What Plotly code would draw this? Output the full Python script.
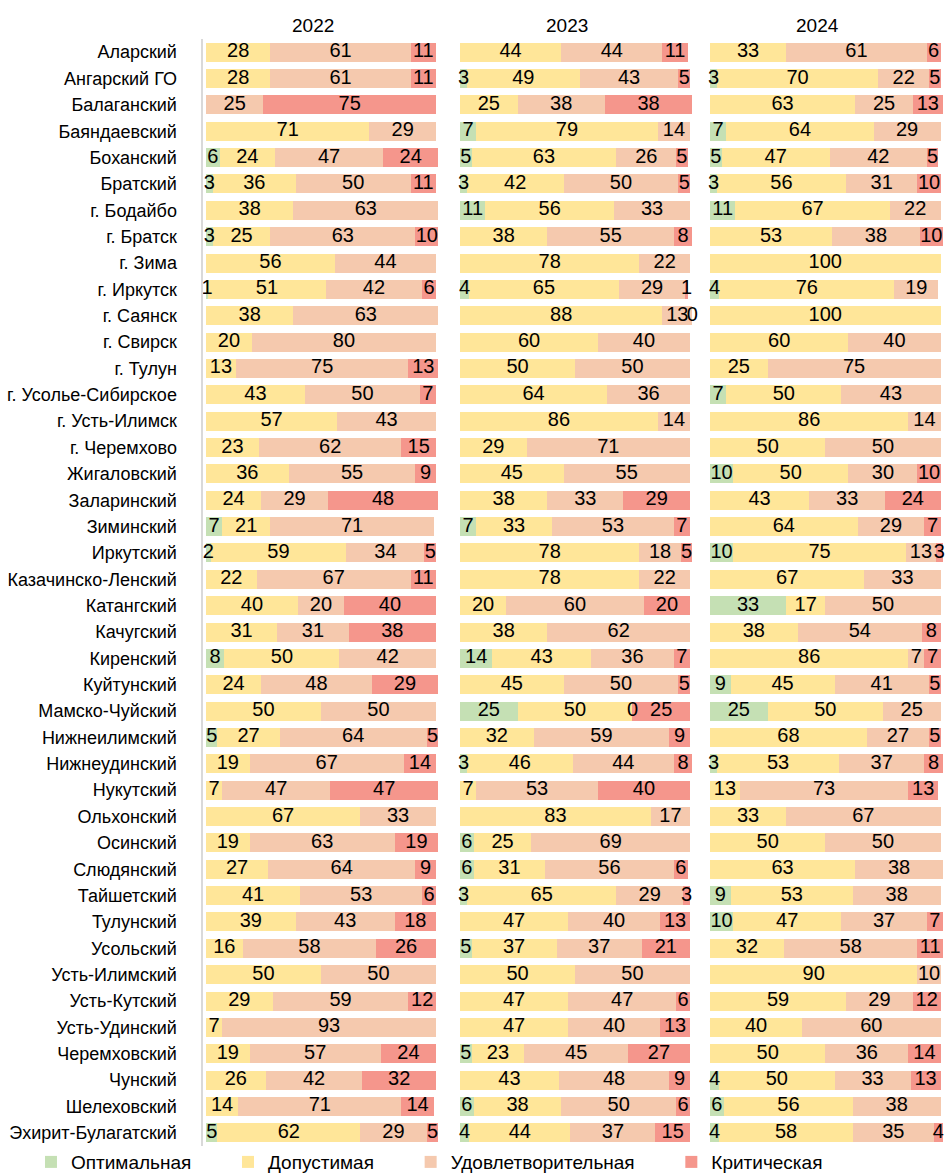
import plotly.graph_objects as go
from plotly.subplots import make_subplots

N = None

regions = ["Аларский", "Ангарский ГО", "Балаганский", "Баяндаевский", "Боханский", "Братский",
           "г. Бодайбо", "г. Братск", "г. Зима", "г. Иркутск", "г. Саянск", "г. Свирск", "г. Тулун",
           "г. Усолье-Сибирское", "г. Усть-Илимск", "г. Черемхово", "Жигаловский", "Заларинский",
           "Зиминский", "Иркутский", "Казачинско-Ленский", "Катангский", "Качугский", "Киренский",
           "Куйтунский", "Мамско-Чуйский", "Нижнеилимский", "Нижнеудинский", "Нукутский",
           "Ольхонский", "Осинский", "Слюдянский", "Тайшетский", "Тулунский", "Усольский",
           "Усть-Илимский", "Усть-Кутский", "Усть-Удинский", "Черемховский", "Чунский",
           "Шелеховский", "Эхирит-Булагатский"]

years = ["2022", "2023", "2024"]
categories = ["Оптимальная", "Допустимая", "Удовлетворительная", "Критическая"]

opt_2022 = [N, N, N, N, 6, 3, N, 3, N, 1, N, N, N, N, N, N, N, N, 7, 2, N, N, N, 8, N, N, 5, N, N, N, N, N, N, N, N, N, N, N, N, N, N, 5]
dop_2022 = [28, 28, N, 71, 24, 36, 38, 25, 56, 51, 38, 20, 13, 43, 57, 23, 36, 24, 21, 59, 22, 40, 31, 50, 24, 50, 27, 19, 7, 67, 19, 27, 41, 39, 16, 50, 29, 7, 19, 26, 14, 62]
udv_2022 = [61, 61, 25, 29, 47, 50, 63, 63, 44, 42, 63, 80, 75, 50, 43, 62, 55, 29, 71, 34, 67, 20, 31, 42, 48, 50, 64, 67, 47, 33, 63, 64, 53, 43, 58, 50, 59, 93, 57, 42, 71, 29]
krit_2022 = [11, 11, 75, N, 24, 11, N, 10, N, 6, N, N, 13, 7, N, 15, 9, 48, N, 5, 11, 40, 38, N, 29, N, 5, 14, 47, N, 19, 9, 6, 18, 26, N, 12, N, 24, 32, 14, 5]

opt_2023 = [N, 3, N, 7, 5, 3, 11, N, N, 4, N, N, N, N, N, N, N, N, 7, N, N, N, N, 14, N, 25, N, 3, N, N, 6, 6, 3, N, 5, N, N, N, 5, N, 6, 4]
dop_2023 = [44, 49, 25, 79, 63, 42, 56, 38, 78, 65, 88, 60, 50, 64, 86, 29, 45, 38, 33, 78, 78, 20, 38, 43, 45, 50, 32, 46, 7, 83, 25, 31, 65, 47, 37, 50, 47, 47, 23, 43, 38, 44]
udv_2023 = [44, 43, 38, 14, 26, 50, 33, 55, 22, 29, 13, 40, 50, 36, 14, 71, 55, 33, 53, 18, 22, 60, 62, 36, 50, 0, 59, 44, 53, 17, 69, 56, 29, 40, 37, 50, 47, 40, 45, 48, 50, 37]
krit_2023 = [11, 5, 38, N, 5, 5, N, 8, N, 1, 0, N, N, N, N, N, N, 29, 7, 5, N, 20, N, 7, 5, 25, 9, 8, 40, N, N, 6, 3, 13, 21, N, 6, 13, 27, 9, 6, 15]

opt_2024 = [N, 3, N, 7, 5, 3, 11, N, N, 4, N, N, N, 7, N, N, 10, N, N, 10, N, 33, N, N, 9, 25, N, 3, N, N, N, N, 9, 10, N, N, N, N, N, 4, 6, 4]
dop_2024 = [33, 70, 63, 64, 47, 56, 67, 53, 100, 76, 100, 60, 25, 50, 86, 50, 50, 43, 64, 75, 67, 17, 38, 86, 45, 50, 68, 53, 13, 33, 50, 63, 53, 47, 32, 90, 59, 40, 50, 50, 56, 58]
udv_2024 = [61, 22, 25, 29, 42, 31, 22, 38, N, 19, N, 40, 75, 43, 14, 50, 30, 33, 29, 13, 33, 50, 54, 7, 41, 25, 27, 37, 73, 67, 50, 38, 38, 37, 58, 10, 29, 60, 36, 33, 38, 35]
krit_2024 = [6, 5, 13, N, 5, 10, N, 10, N, N, N, N, N, N, N, N, 10, 24, 7, 3, N, N, 8, 7, 5, N, 5, 8, 13, N, N, N, N, 7, 11, N, 12, N, 14, 13, N, 4]

colors = ["#C5E0B4", "#FFE699", "#F5C9AE", "#F5968C"]

data = {
    "2022": [opt_2022, dop_2022, udv_2022, krit_2022],
    "2023": [opt_2023, dop_2023, udv_2023, krit_2023],
    "2024": [opt_2024, dop_2024, udv_2024, krit_2024],
}

FONT = "Liberation Sans Narrow, Arial Narrow, Liberation Sans, Arial, sans-serif"
NUM_SIZE = 20
PAD = "\u00a0" * 6

fig = make_subplots(rows=1, cols=3, shared_yaxes=True, horizontal_spacing=0.03)

for ci, year in enumerate(years):
    series = data[year]
    for k, cat in enumerate(categories):
        vals = series[k]
        fig.add_trace(go.Bar(
            y=regions, x=vals,
            orientation="h", name=cat + (PAD if k < 3 else ""), marker_color=colors[k],
            marker_line_width=0,
            cliponaxis=False,
            showlegend=(ci == 0), legendgroup=cat,
            hoverinfo="skip",
        ), row=1, col=ci + 1)

# value labels on top of all segments, centred in each stacked segment
for ci, year in enumerate(years):
    series = data[year]
    lx, ly, lt = [], [], []
    for i in range(len(regions)):
        cum = 0
        for k in range(4):
            v = series[k][i]
            if v is None:
                continue
            lx.append(cum + v / 2)
            ly.append(regions[i])
            lt.append(str(v))
            cum += v
    fig.add_trace(go.Scatter(
        x=lx, y=ly, text=lt, mode="text", textposition="middle center",
        textfont=dict(size=NUM_SIZE, color="black", family=FONT),
        cliponaxis=False, showlegend=False, hoverinfo="skip",
    ), row=1, col=ci + 1)

doms = [[0.0007, 0.3200], [0.3431, 0.6623], [0.6800, 1.0]]
for ci in range(3):
    ax = "xaxis" if ci == 0 else f"xaxis{ci + 1}"
    fig.layout[ax].update(domain=doms[ci], range=[-1.5, 101.5], visible=False, fixedrange=True)
    fig.add_annotation(x=(doms[ci][0] + doms[ci][1]) / 2, y=1, xref="paper", yref="paper",
                       xanchor="center", yanchor="bottom", yshift=1, xshift=-8,
                       text=years[ci], showarrow=False,
                       font=dict(size=19, color="black", family=FONT))

fig.update_yaxes(autorange=False, range=[len(regions) - 0.5, -0.5], showgrid=False, ticks="",
                 zeroline=False, fixedrange=True)
fig.layout.yaxis.update(showline=True, linecolor="#D9D9D9", linewidth=2,
                        tickfont=dict(size=18, color="black", family=FONT),
                        ticklabelstandoff=20)

fig.update_layout(
    width=946, height=1176,
    barmode="stack", bargap=0.28,
    plot_bgcolor="white", paper_bgcolor="white",
    margin=dict(l=202, r=2, t=39, b=30, autoexpand=False),
    font=dict(family=FONT, size=19, color="black"),
    legend=dict(orientation="h", x=-0.2305, xanchor="left", y=-0.0145, yanchor="middle",
                font=dict(size=19, family=FONT), traceorder="normal",
                itemwidth=30, bgcolor="rgba(0,0,0,0)"),
)

fig.write_html("out.html", config={"displayModeBar": False},
               post_script="document.body.style.margin='0';document.body.style.overflow='hidden';")
